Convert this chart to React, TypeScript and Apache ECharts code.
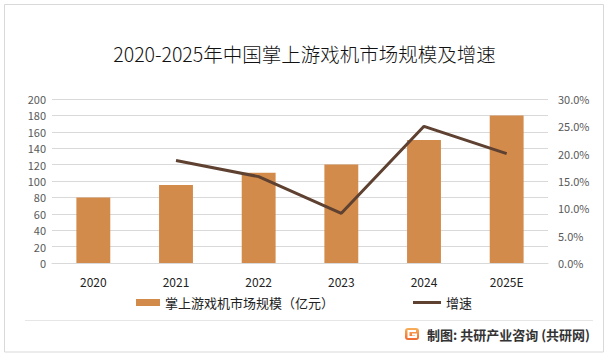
import React, { useEffect, useRef } from "react";
import * as echarts from "echarts";

const categories = ["2020", "2021", "2022", "2023", "2024", "2025E"];
const marketSize = [80, 95, 110, 120, 150, 180];
const growthRate = [null, 0.1875, 0.158, 0.0909, 0.25, 0.2];
const titleText = "2020-2025年中国掌上游戏机市场规模及增速";
const barName = "掌上游戏机市场规模（亿元）";
const lineName = "增速";
const sourceText = "制图: 共研产业咨询 (共研网)";

const FONT = "'Noto Sans CJK SC', 'Microsoft YaHei', sans-serif";

export default function App() {
  const ref = useRef<HTMLDivElement>(null);
  useEffect(() => {
    if (!ref.current) return;
    const chart = echarts.init(ref.current, null, { renderer: "svg" });
    chart.setOption({
      animation: false,
      backgroundColor: "#ffffff",
      textStyle: { fontFamily: FONT },
      title: {
        text: titleText,
        left: "center",
        top: 39,
        textStyle: { fontSize: 19.5, fontWeight: 300, color: "#111", fontFamily: FONT },
      },
      grid: { left: 52, right: 61, top: 99, bottom: 94, containLabel: false },
      legend: [
        {
          data: [{ name: barName, icon: "rect" }],
          left: 131,
          top: 291,
          itemWidth: 24,
          itemHeight: 7,
          itemGap: 4,
          textStyle: { fontSize: 13, color: "#222", fontFamily: FONT },
        },
        {
          data: [{ name: lineName, icon: "rect" }],
          left: 408,
          top: 291,
          itemWidth: 28,
          itemHeight: 3,
          itemGap: 2,
          textStyle: { fontSize: 13, color: "#222", fontFamily: FONT },
        },
      ],
      xAxis: {
        type: "category",
        data: categories,
        axisLine: { lineStyle: { color: "#d9d9d9" } },
        axisTick: { show: false },
        axisLabel: { color: "#222", fontSize: 12, margin: 12 },
      },
      yAxis: [
        {
          type: "value",
          min: 0,
          max: 200,
          interval: 20,
          axisLine: { show: false },
          axisTick: { show: false },
          axisLabel: { color: "#595959", fontSize: 11, margin: 6 },
          splitLine: { lineStyle: { color: "#d9d9d9" } },
        },
        {
          type: "value",
          min: 0,
          max: 0.3,
          interval: 0.05,
          axisLine: { show: false },
          axisTick: { show: false },
          axisLabel: {
            color: "#595959",
            fontSize: 11,
            margin: 10,
            formatter: (v: number) => (v * 100).toFixed(1) + "%",
          },
          splitLine: { show: false },
        },
      ],
      series: [
        {
          name: barName,
          type: "bar",
          data: marketSize,
          barWidth: "41%",
          itemStyle: { color: "#d38b4c" },
        },
        {
          name: lineName,
          type: "line",
          yAxisIndex: 1,
          data: growthRate,
          symbol: "none",
          lineStyle: { color: "#5e4130", width: 3 },
          itemStyle: { color: "#5e4130" },
        },
      ],
      graphic: [
        {
          type: "rect",
          shape: { x: 4.5, y: 4.5, width: 599, height: 347.5 },
          style: { fill: "none", stroke: "#d9d9d9", lineWidth: 1 },
          silent: true,
        },
        {
          type: "line",
          shape: { x1: 25, y1: 320.5, x2: 593, y2: 320.5 },
          style: { stroke: "#e6e6e6", lineWidth: 1 },
          silent: true,
        },
        {
          type: "rect",
          shape: { x: 405, y: 328, width: 14, height: 12, r: 3 },
          style: {
            fill: new echarts.graphic.LinearGradient(0, 0, 0, 1, [
              { offset: 0, color: "#f7b15c" },
              { offset: 1, color: "#ee6a2e" },
            ]),
          },
          silent: true,
        },
        {
          type: "polyline",
          shape: { points: [[416, 331], [408.5, 331], [408.5, 337], [416, 337], [416, 334.5], [412, 334.5]] },
          style: { stroke: "#ffffff", lineWidth: 2, fill: "none" },
          silent: true,
        },
        {
          type: "text",
          x: 427,
          y: 334.5,
          style: {
            text: sourceText,
            fontSize: 13,
            fontWeight: "bold",
            fill: "#333",
            fontFamily: FONT,
            textVerticalAlign: "middle",
          },
          silent: true,
        },
      ],
    });
    return () => chart.dispose();
  }, []);
  return (
    <div
      ref={ref}
      style={{ position: "fixed", left: 0, top: 0, width: 609, height: 357 }}
    />
  );
}
